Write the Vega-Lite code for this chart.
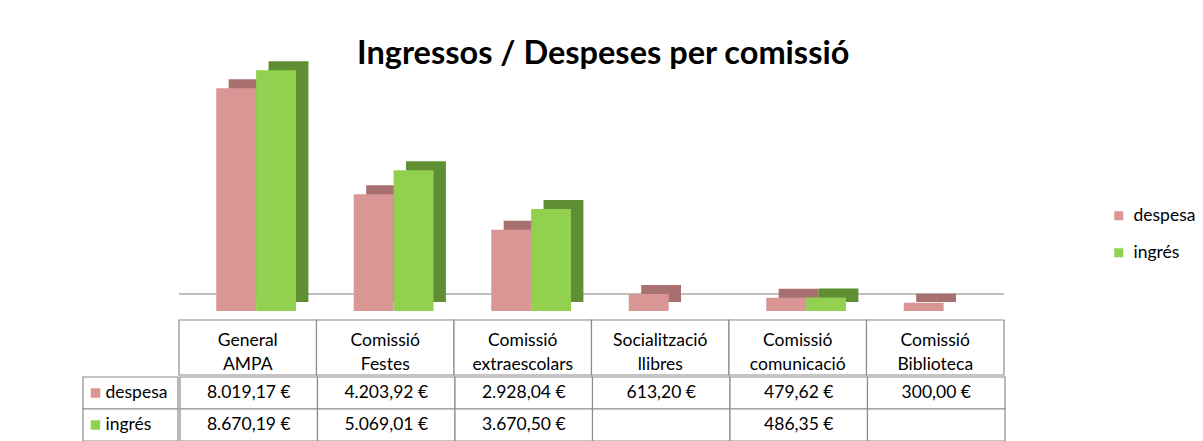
{
  "$schema": "https://vega.github.io/schema/vega-lite/v6.json",
  "padding": {"left": 82, "top": 37, "right": 0, "bottom": 0},
  "background": "white",
  "config": {
    "view": {"stroke": null},
    "font": "Lato",
    "axis": {"minExtent": 0},
    "locale": {"number": {"decimal": ",", "thousands": ".", "grouping": [3], "currency": ["", " €"]}}
  },
  "title": {
    "text": "Ingressos / Despeses per comissió",
    "font": "Lato",
    "fontSize": 32.5,
    "fontWeight": "bold",
    "color": "#000000",
    "anchor": "middle",
    "dx": -109,
    "offset": -9
  },
  "data": {
    "values": [
      {"cat": "General AMPA", "serie": "despesa", "value": 8019.17},
      {"cat": "General AMPA", "serie": "ingrés", "value": 8670.19},
      {"cat": "Comissió Festes", "serie": "despesa", "value": 4203.92},
      {"cat": "Comissió Festes", "serie": "ingrés", "value": 5069.01},
      {"cat": "Comissió extraescolars", "serie": "despesa", "value": 2928.04},
      {"cat": "Comissió extraescolars", "serie": "ingrés", "value": 3670.50},
      {"cat": "Socialització llibres", "serie": "despesa", "value": 613.20},
      {"cat": "Socialització llibres", "serie": "ingrés", "value": null},
      {"cat": "Comissió comunicació", "serie": "despesa", "value": 479.62},
      {"cat": "Comissió comunicació", "serie": "ingrés", "value": 486.35},
      {"cat": "Comissió Biblioteca", "serie": "despesa", "value": 300.00},
      {"cat": "Comissió Biblioteca", "serie": "ingrés", "value": null}
    ]
  },
  "resolve": {"scale": {"color": "shared"}, "legend": {"color": "shared"}},
  "spacing": 8,
  "vconcat": [
    {
      "spacing": 0,
      "hconcat": [
        {
          "width": 95,
          "height": 250,
          "transform": [{"filter": "datum.cat == 'General AMPA' && datum.serie == 'despesa'"}],
          "mark": {"type": "text"},
          "encoding": {"text": {"value": ""}}
        },
        {
          "width": 825,
          "height": 250,
          "resolve": {"scale": {"x": "independent"}},
          "layer": [
            {
              "mark": {"type": "rule", "color": "#BFBFBF", "strokeWidth": 1.5},
              "encoding": {
                "y": {"datum": 612, "type": "quantitative", "scale": {"domain": [0, 9000]}, "axis": null}
              }
            },
            {
              "mark": {"type": "bar", "yOffset": -9},
              "encoding": {
                "x": {"field": "cat", "type": "nominal", "sort": ["General AMPA", "Comissió Festes", "Comissió extraescolars", "Socialització llibres", "Comissió comunicació", "Comissió Biblioteca"], "scale": {"paddingInner": 0.42, "paddingOuter": 0.21, "align": 0.86}, "axis": null},
                "xOffset": {"field": "serie", "type": "nominal", "sort": ["despesa", "ingrés"], "scale": {"padding": 0}},
                "y": {"field": "value", "type": "quantitative", "scale": {"domain": [0, 9000]}, "axis": null},
                "fill": {"condition": {"test": "datum.serie == 'despesa'", "value": "#A8716F"}, "value": "#5F8E33"}
              }
            },
            {
              "mark": {"type": "bar"},
              "encoding": {
                "x": {"field": "cat", "type": "nominal", "sort": ["General AMPA", "Comissió Festes", "Comissió extraescolars", "Socialització llibres", "Comissió comunicació", "Comissió Biblioteca"], "scale": {"paddingInner": 0.42, "paddingOuter": 0.21, "align": 0.645}, "axis": null},
                "xOffset": {"field": "serie", "type": "nominal", "sort": ["despesa", "ingrés"], "scale": {"padding": 0}},
                "y": {"field": "value", "type": "quantitative", "scale": {"domain": [0, 9000]}, "axis": null},
                "color": {
                  "field": "serie", "type": "nominal",
                  "scale": {"domain": ["despesa", "ingrés"], "range": ["#D99694", "#92D050"]},
                  "legend": {
                    "title": null, "orient": "right", "offset": -42, "padding": 146,
                    "symbolType": "square", "symbolSize": 81, "symbolStrokeWidth": 0,
                    "labelFont": "Lato", "labelFontSize": 17.5, "labelColor": "#000000",
                    "labelOffset": 6, "rowPadding": 18
                  }
                }
              }
            }
          ]
        }
      ]
    },
    {
      "spacing": 0,
      "vconcat": [
        {
          "spacing": 0,
          "hconcat": [
            {
              "width": 95,
              "height": 55,
              "transform": [{"filter": "datum.cat == 'General AMPA' && datum.serie == 'despesa'"}],
              "mark": {"type": "text"},
              "encoding": {"text": {"value": ""}}
            },
            {
              "width": 825,
              "height": 55,
              "transform": [{"filter": "datum.serie == 'despesa'"}],
              "encoding": {
                "x": {"field": "cat", "type": "nominal", "sort": ["General AMPA", "Comissió Festes", "Comissió extraescolars", "Socialització llibres", "Comissió comunicació", "Comissió Biblioteca"], "scale": {"padding": 0}, "axis": null}
              },
              "layer": [
                {"mark": {"type": "rect", "fill": "white", "stroke": "#8C8C8C", "strokeWidth": 1.2}},
                {
                  "mark": {"type": "text", "font": "Lato", "fontSize": 17.5, "color": "#000000", "lineBreak": " ", "lineHeight": 24, "baseline": "middle", "dy": -6.5},
                  "encoding": {"text": {"field": "cat"}}
                }
              ]
            }
          ]
        },
        {
          "spacing": 0,
          "hconcat": [
            {
              "width": 95,
              "height": 64,
              "transform": [{"filter": "datum.cat == 'General AMPA'"}],
              "encoding": {
                "y": {"field": "serie", "type": "nominal", "sort": ["despesa", "ingrés"], "scale": {"padding": 0}, "axis": null}
              },
              "layer": [
                {"mark": {"type": "rect", "fill": "white", "stroke": "#8C8C8C", "strokeWidth": 1.2}},
                {
                  "mark": {"type": "point", "shape": "square", "filled": true, "size": 90, "opacity": 1, "xOffset": -35},
                  "encoding": {
                    "color": {
                      "field": "serie", "type": "nominal",
                      "scale": {"domain": ["despesa", "ingrés"], "range": ["#D99694", "#92D050"]},
                      "legend": {
                        "title": null, "orient": "right", "offset": -42, "padding": 146,
                        "symbolType": "square", "symbolSize": 81, "symbolStrokeWidth": 0,
                        "labelFont": "Lato", "labelFontSize": 17.5, "labelColor": "#000000",
                        "labelOffset": 6, "rowPadding": 18
                      }
                    }
                  }
                },
                {
                  "mark": {"type": "text", "font": "Lato", "fontSize": 17.5, "color": "#000000", "align": "left", "dx": -25, "baseline": "middle"},
                  "encoding": {"text": {"field": "serie"}}
                }
              ]
            },
            {
              "width": 825,
              "height": 64,
              "encoding": {
                "x": {"field": "cat", "type": "nominal", "sort": ["General AMPA", "Comissió Festes", "Comissió extraescolars", "Socialització llibres", "Comissió comunicació", "Comissió Biblioteca"], "scale": {"padding": 0}, "axis": null},
                "y": {"field": "serie", "type": "nominal", "sort": ["despesa", "ingrés"], "scale": {"padding": 0}, "axis": null}
              },
              "layer": [
                {"mark": {"type": "rect", "fill": "white", "stroke": "#8C8C8C", "strokeWidth": 1.2}},
                {
                  "transform": [{"filter": "datum.value != null"}],
                  "mark": {"type": "text", "font": "Lato", "fontSize": 17.5, "color": "#000000", "baseline": "middle"},
                  "encoding": {"text": {"field": "value", "type": "quantitative", "format": "$,.2f"}}
                }
              ]
            }
          ]
        }
      ]
    }
  ]
}
